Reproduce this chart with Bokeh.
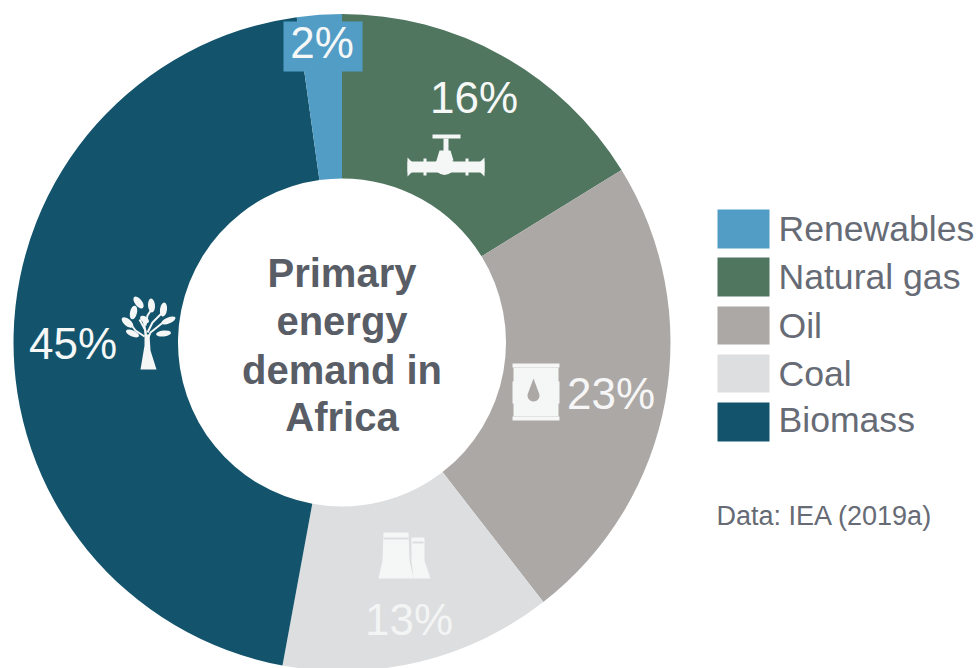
import math
from bokeh.plotting import figure
from bokeh.models import Range1d, ColumnDataSource
from bokeh.core.properties import value
from bokeh.embed import file_html
from bokeh.resources import INLINE

# Data (clockwise from 12 o'clock)
segments = ["Natural gas", "Oil", "Coal", "Biomass", "Renewables"]
shares = [16.2, 23.3, 13.4, 44.9, 2.2]
share_labels = ["16%", "23%", "13%", "45%", "2%"]
colors = ["#507660", "#ACA8A6", "#DDDEE0", "#13546C", "#529DC6"]
legend_order = ["Renewables", "Natural gas", "Oil", "Coal", "Biomass"]
center_lines = ["Primary", "energy", "demand in", "Africa"]
source_note = "Data: IEA (2019a)"

W, H = 978, 668
CX, CY, R_OUT, R_IN = 341.5, 342, 328.5, 164
FONT = value("Liberation Sans")

p = figure(width=W, height=H, x_range=Range1d(0, W), y_range=Range1d(H, 0),
           output_backend="svg", toolbar_location=None, min_border=0,
           background_fill_color="white", border_fill_color="white", outline_line_color=None)
p.axis.visible = False
p.grid.visible = False

# Donut
starts, ends, acc = [], [], 0.0
total = sum(shares)
for s in shares:
    starts.append(math.pi / 2 - 2 * math.pi * acc / total)
    acc += s
    ends.append(math.pi / 2 - 2 * math.pi * acc / total)
src = ColumnDataSource(dict(segment=segments, start=starts, end=ends, color=colors))
p.annular_wedge(x=CX, y=CY, inner_radius=R_IN, outer_radius=R_OUT, start_angle="start", end_angle="end",
                direction="clock", fill_color="color", line_color=None, source=src)

# Box behind the 2% label
p.quad(left=[283], right=[362], top=[21], bottom=[71], fill_color=colors[4], line_color=None)

# Percentage labels
lx = [473.5, 610.5, 408.5, 72.5, 321.5]
ly = [97, 393, 619, 343, 42]
lc = ["#F6F8F8", "#F6F6F6", "#F3F4F4", "#F6F8F8", "#F6F8F8"]
p.text(x=lx, y=ly, text=share_labels, text_color=lc, text_font=FONT, text_font_size="44px",
       text_align="center", text_baseline="middle")

# Centre title
p.text(x=[341.5] * 4, y=[272, 320, 369, 416], text=center_lines, text_color="#585D66", text_font=FONT,
       text_font_style="bold", text_font_size="40px", text_align="center", text_baseline="middle")

# Legend
by_name = dict(zip(segments, colors))
sw_top = [209, 257, 306, 354, 402]
sw_bot = [248, 296, 344, 392, 441]
p.quad(left=[717] * 5, right=[769] * 5, top=sw_top, bottom=sw_bot,
       fill_color=[by_name[n] for n in legend_order], line_color=None)
p.text(x=[778] * 5, y=[228, 276, 325, 373, 419], text=legend_order, text_color="#666B75", text_font=FONT,
       text_font_size="35.6px", text_align="left", text_baseline="middle")
p.text(x=[716], y=[515], text=[source_note], text_color="#666B75", text_font=FONT,
       text_font_size="27px", text_align="left", text_baseline="middle")

# --- Icons ---
ICON = "#F5F6F6"
def poly(xs, ys, color=ICON):
    p.patch(xs, ys, fill_color=color, line_color=None)
def rect(x0, y0, x1, y1, color=ICON):
    p.quad(left=[x0], right=[x1], top=[y0], bottom=[y1], fill_color=color, line_color=None)

# Valve
rect(432, 134, 460, 138)
rect(443, 138, 448, 155)
rect(407, 161, 484, 172)
poly([407, 411, 411, 407], [157, 161, 172, 176])
poly([484, 480, 480, 484], [157, 161, 172, 176])
rect(423, 158, 426, 175)
rect(465, 158, 468, 175)
p.circle(x=[444], y=[165], radius=9.5, fill_color=ICON, line_color=None)
poly([439, 450, 453, 436], [150, 150, 160, 160])

# Tree
poly([140, 144, 144, 149, 150, 156], [369, 345, 334, 334, 350, 369])
p.multi_line(xs=[[146, 145, 139], [146, 150, 165], [146, 144, 143], [147, 152, 163], [144, 135, 129], [145, 147, 151]],
             ys=[[342, 330, 319], [342, 332, 320], [342, 325, 319], [332, 322, 311], [336, 330, 322], [325, 315, 309]],
             line_color=ICON, line_width=2)
p.ellipse(x=[138, 151, 163, 133, 168, 127, 144, 163, 132],
          y=[302, 305, 309, 312, 320, 322, 319, 333, 333],
          width=[14, 14, 14, 14, 15, 14, 10, 15, 14], height=[7, 7, 7, 7, 6, 7, 6, 6, 6],
          angle=[-0.9, -1.5, -1.7, -1.8, 0.4, -0.7, -0.6, 0.1, -0.4],
          fill_color=ICON, line_color=None)

# Barrel
rect(512, 363, 559, 367)
rect(513, 367, 558, 416)
rect(512, 416, 559, 420)
rect(512, 381, 514, 403)
rect(557, 381, 559, 403)
drop_angles = [i * math.pi / 12 for i in range(-8, 9)]
poly([533 + 6 * math.sin(t) for t in drop_angles] + [533],
     [395 + 6 * math.cos(t) for t in drop_angles] + [378],
     colors[1])

# Cooling towers
poly([378, 382, 383, 408, 409, 413], [578, 560, 532, 532, 560, 578])
poly([413, 411, 411, 424, 424, 430], [578, 560, 537, 537, 560, 578])
rect(383, 537, 408, 539, colors[2])
rect(412, 541, 423, 543, colors[2])

open("out.html", "w").write(file_html(p, INLINE))
